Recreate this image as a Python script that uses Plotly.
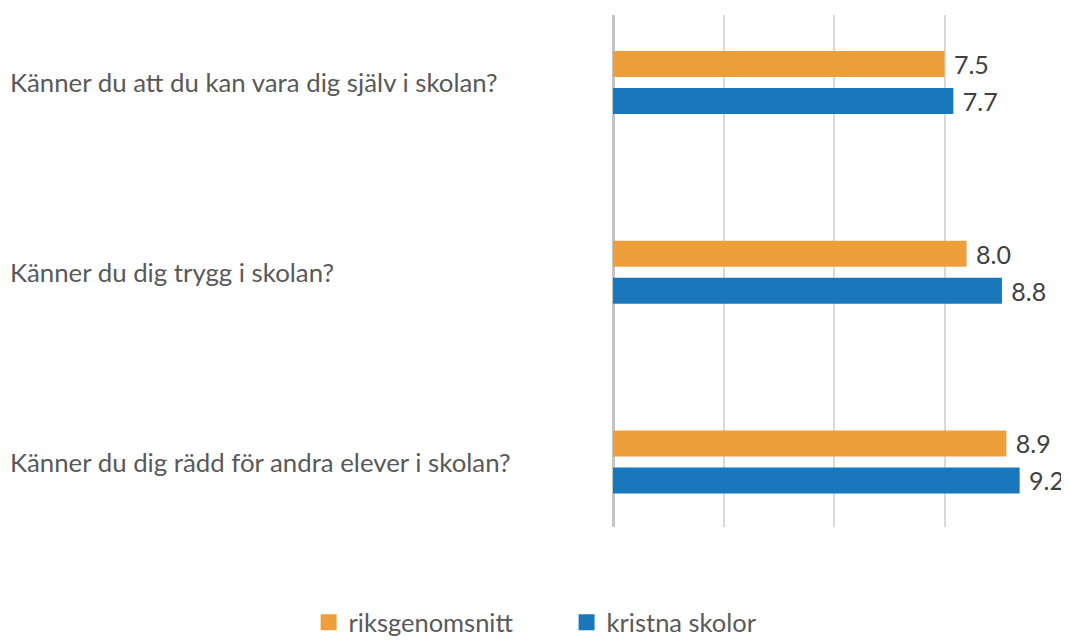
import plotly.graph_objects as go

categories = [
    "Känner du att du kan vara dig själv i skolan?",
    "Känner du dig trygg i skolan?",
    "Känner du dig rädd för andra elever i skolan?",
]
series_names = ["riksgenomsnitt", "kristna skolor"]
riksgenomsnitt = [7.5, 8.0, 8.9]
kristna_skolor = [7.7, 8.8, 9.2]
x_ticks = [0, 2.5, 5, 7.5]

colors = ["#ED9F3B", "#1878BB"]
FONT = "Lato"

fig = go.Figure()
for name, vals, col in zip(series_names, [riksgenomsnitt, kristna_skolor], colors):
    fig.add_trace(go.Bar(
        y=categories, x=vals, orientation="h", name=name,
        marker=dict(color=col, line=dict(width=0)),
        texttemplate="\u00a0%{x:.1f}", textposition="outside",
        textfont=dict(family=FONT, size=25, color="#404040"),
        cliponaxis=False, constraintext="none", showlegend=False,
    ))
    # legend entry with a larger square symbol
    fig.add_trace(go.Scatter(
        x=[None], y=[None], mode="markers", name=name,
        marker=dict(symbol="square", size=18, color=col),
        showlegend=True,
    ))

for cat in categories:
    fig.add_annotation(
        x=0, xref="paper", xshift=-605, y=cat, yref="y",
        text=cat, showarrow=False, xanchor="left", yanchor="middle",
        font=dict(family=FONT, size=25.8, color="#595959"),
    )

fig.update_layout(
    width=1061, height=633,
    margin=dict(l=605, r=14, t=7, b=114, autoexpand=False),
    paper_bgcolor="white", plot_bgcolor="white",
    barmode="group", bargap=0.61, bargroupgap=0.297,
    font=dict(family=FONT, color="#595959"),
    legend=dict(
        orientation="h", x=-0.105, xanchor="center", y=-0.187, yanchor="middle",
        font=dict(family=FONT, size=25.5, color="#595959"),
        entrywidth=213, entrywidthmode="pixels",
        bgcolor="rgba(0,0,0,0)",
    ),
    xaxis=dict(
        range=[0, 10], tickvals=x_ticks, showticklabels=False,
        showgrid=True, gridcolor="#D9D9D9", gridwidth=2,
        zeroline=True, zerolinecolor="#C4C4C4", zerolinewidth=3,
        showline=False, fixedrange=True,
    ),
    yaxis=dict(
        type="category", categoryarray=categories,
        range=[2.3426, -0.3557], showticklabels=False,
        showgrid=False, zeroline=False, showline=False,
    ),
)

fig.write_html("out.html")
